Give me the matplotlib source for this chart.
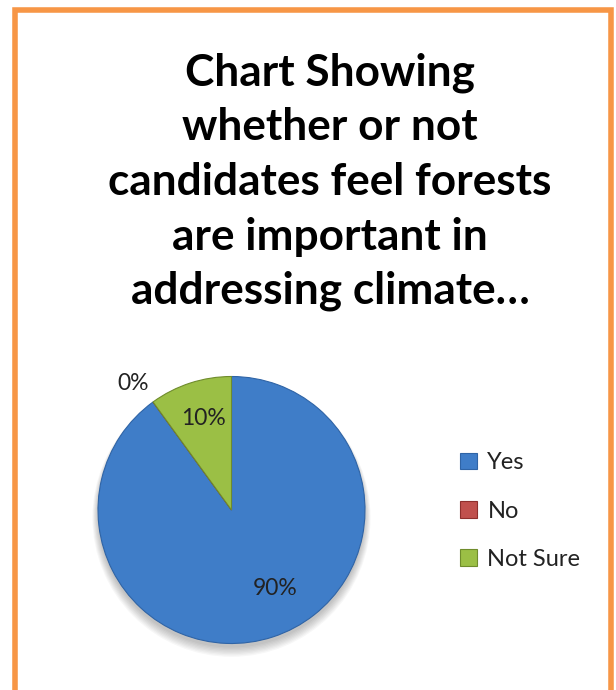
import numpy as np
import matplotlib
matplotlib.use('Agg')
import matplotlib.pyplot as plt
import matplotlib.patches as mpatches

plt.rcParams['font.family'] = ['Lato', 'DejaVu Sans']

# =============================================
# Data
# =============================================

title_lines = ['Chart Showing', 'whether or not', 'candidates feel forests',
               'are important in', 'addressing climate\u2026']
categories = ['Yes', 'No', 'Not Sure']
shares = [90, 0, 10]
pct_labels = ['90%', '0%', '10%']
colours = ['#3f7dc8', '#c0504d', '#9bbf45']
edges = ['#2f64a6', '#8e2f2d', '#6f8c2c']

# =============================================
# Figure
# =============================================

W, H = 616, 690
fig = plt.figure(figsize=(W / 100, H / 100), dpi=100)
fig.patch.set_facecolor('white')

# orange frame (bottom edge runs off the picture)
frame = mpatches.Rectangle((14.5 / W, -0.05), (611 - 14.5) / W, (H - 9.5) / H + 0.05,
                           transform=fig.transFigure, fill=False,
                           edgecolor='#f79646', linewidth=4, clip_on=False)
fig.patches.append(frame)

# title
for i, line in enumerate(title_lines):
    fig.text(330 / W, 1 - (73 + 54.5 * i) / H, line, ha='center', va='center',
             fontsize=31.8, fontweight='bold', color='black')

# pie
cx, cy, r = 231.5, 510, 133.5
ax = fig.add_axes([(cx - r) / W, (H - cy - r) / H, 2 * r / W, 2 * r / H])

wedges, _ = ax.pie(shares, colors=colours, startangle=90, counterclock=False,
                   radius=1, wedgeprops=dict(linewidth=0.8))
for w, e in zip(wedges, edges):
    w.set_edgecolor(e)
    w.set_zorder(2)
ax.set_xlim(-1, 1)
ax.set_ylim(-1, 1)
ax.axis('off')

# soft shadow under the pie
for k in range(8):
    ax.add_patch(mpatches.Circle((0, -0.03 - 0.004 * k), 1.0 + 0.006 * k,
                                 color='black', alpha=0.03, zorder=0, lw=0,
                                 clip_on=False))

# label placement: (distance from centre, angle in degrees)
label_pos = {'Yes': (0.675, -61), 'No': (1.2, 128), 'Not Sure': (0.72, 107)}
for cat, lab in zip(categories, pct_labels):
    d, a = label_pos[cat]
    ax.text(d * np.cos(np.radians(a)), d * np.sin(np.radians(a)), lab,
            ha='center', va='center', fontsize=16.5, color='#222222', zorder=3)

# legend
handles = [mpatches.Patch(facecolor=c, edgecolor=e, linewidth=0.8)
           for c, e in zip(colours, edges)]
fig.legend(handles, categories, loc='center left',
           bbox_to_anchor=(439 / W, 1 - 511 / H), frameon=False,
           fontsize=17, handlelength=0.7, handleheight=0.7,
           handletextpad=0.45, labelspacing=1.15, labelcolor='#222222')

fig.savefig('out.png', dpi=100)
